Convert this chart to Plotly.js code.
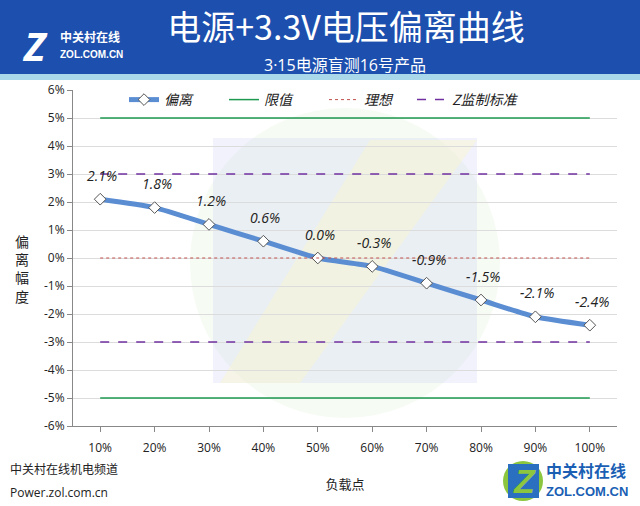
<!DOCTYPE html>
<html><head><meta charset="utf-8">
<script src="https://cdn.plot.ly/plotly-3.0.1.min.js"></script>
<style>html,body{margin:0;padding:0;background:#fff}#c{width:640px;height:506px}</style>
</head><body><div id="c"></div>
<script>
var categories = ['10%','20%','30%','40%','50%','60%','70%','80%','90%','100%'];
var deviation = [2.1, 1.8, 1.2, 0.6, 0.0, -0.3, -0.9, -1.5, -2.1, -2.4];
var limitUpper = 5, limitLower = -5;
var ideal = 0;
var zStdUpper = 3, zStdLower = -3;
var yTicks = [-6,-5,-4,-3,-2,-1,0,1,2,3,4,5,6];

var M = {l:73, r:23, t:90, b:80};
var W = 640 - M.l - M.r, H = 506 - M.t - M.b;
function px(x){ return (x - M.l) / W; }
function py(y){ return (506 - M.b - y) / H; }
var CJK = '"Noto Sans CJK SC", "Noto Sans", sans-serif';
var LAT = '"Open Sans", "Noto Sans CJK SC", sans-serif';

function flat(v){ return categories.map(function(){ return v; }); }

var traces = [
  {x:categories, y:deviation, name:'偏离', type:'scatter', mode:'lines+markers',
   line:{color:'#5b8dd3', width:5, shape:'spline', smoothing:0.6},
   marker:{symbol:'diamond', size:9, color:'#ffffff', line:{color:'#555555', width:1}}},
  {x:categories, y:flat(limitUpper), name:'限值', type:'scatter', mode:'lines',
   line:{color:'#1e9a50', width:1.5}},
  {x:categories, y:flat(limitLower), name:'限值', type:'scatter', mode:'lines', showlegend:false,
   line:{color:'#1e9a50', width:1.5}},
  {x:categories, y:flat(ideal), name:'理想', type:'scatter', mode:'lines',
   line:{color:'#c0504d', width:1, dash:'dot'}},
  {x:categories, y:flat(zStdUpper), name:'Z监制标准', type:'scatter', mode:'lines', legend:'legend2',
   line:{color:'#7030a0', width:1.5, dash:'dash'}},
  {x:categories, y:flat(zStdLower), name:'Z监制标准', type:'scatter', mode:'lines', showlegend:false, legend:'legend2',
   line:{color:'#7030a0', width:1.5, dash:'dash'}}
];

var annotations = categories.map(function(c, i){
  return {x:c, y:deviation[i], xref:'x', yref:'y', text:deviation[i].toFixed(1)+'%',
    showarrow:false, yshift:24, xshift:2, xanchor:'center', yanchor:'middle',
    font:{family:LAT, size:14, color:'#222', style:'italic'}};
});
function pa(x, y, text, font, xa){
  return {xref:'paper', yref:'paper', x:px(x), y:py(y), text:text, showarrow:false,
          xanchor:xa || 'center', yanchor:'middle', font:font};
}
annotations.push(
  pa(345, 65, '3·15电源盲测16号产品', {family:LAT, size:16, color:'#ffffff'}),
  pa(35, 45, '<b><i>Z</i></b>', {family:LAT, size:40, color:'#ffffff'}),
  pa(58, 37, '<b>中关村在线</b>', {family:CJK, size:12, color:'#ffffff'}, 'left'),
  pa(58, 55, '<b>ZOL.COM.CN</b>', {family:'"Liberation Sans", sans-serif', size:10, color:'#ffffff'}, 'left'),
  pa(22, 268, '偏<br>离<br>幅<br>度', {family:CJK, size:14, color:'#222'}),
  pa(8, 468, '中关村在线机电频道', {family:CJK, size:12, color:'#222'}, 'left'),
  pa(8, 492, 'Power.zol.com.cn', {family:LAT, size:12, color:'#222'}, 'left'),
  pa(524, 481, '<b><i>Z</i></b>', {family:'"Liberation Sans", sans-serif', size:34, color:'#8cc63f'}),
  pa(544, 470, '<b>中关村在线</b>', {family:CJK, size:16, color:'#1a5fb4'}, 'left'),
  pa(544, 491, '<b>ZOL.COM.CN</b>', {family:'"Liberation Sans", sans-serif', size:13, color:'#1a5fb4'}, 'left')
);

var shapes = [
  {type:'rect', xref:'paper', yref:'paper', x0:px(0), x1:px(640), y0:py(0), y1:py(76), fillcolor:'#1c4fae', line:{width:0}, layer:'below'},
  {type:'rect', xref:'paper', yref:'paper', x0:px(0), x1:px(640), y0:py(74), y1:py(80), fillcolor:'#a8d8ea', line:{width:0}, layer:'below'},
  {type:'circle', xref:'paper', yref:'paper', x0:px(190), x1:px(500), y0:py(108), y1:py(418), fillcolor:'rgba(215,235,205,0.22)', line:{width:0}, layer:'below'},
  {type:'rect', xref:'paper', yref:'paper', x0:px(213), x1:px(477), y0:py(138), y1:py(383), fillcolor:'rgba(205,210,240,0.28)', line:{width:0}, layer:'below'},
  {type:'path', xref:'paper', yref:'paper', path:'M '+px(370)+' '+py(140)+' L '+px(477)+' '+py(140)+' L '+px(300)+' '+py(383)+' L '+px(220)+' '+py(383)+' Z', fillcolor:'rgba(250,246,205,0.45)', line:{width:0}, layer:'below'},
  {type:'circle', xref:'paper', yref:'paper', x0:px(503), x1:px(543), y0:py(461), y1:py(501), fillcolor:'#8cc63f', line:{width:0}},
  {type:'rect', xref:'paper', yref:'paper', x0:px(508), x1:px(539), y0:py(464), y1:py(498), fillcolor:'#2a6fc0', line:{width:0}}
];

var legendFont = {family:CJK, size:14, color:'#222', style:'italic'};
var layout = {
  width:640, height:506, margin:M,
  paper_bgcolor:'#ffffff', plot_bgcolor:'rgba(0,0,0,0)',
  title:{text:'电源+3.3V电压偏离曲线', x:px(346), xref:'paper', xanchor:'center', y:1-28/506, yanchor:'middle', yref:'container',
         font:{family:CJK, size:34, color:'#ffffff'}},
  showlegend:true,
  legend:{orientation:'h', x:px(124), y:py(100), xanchor:'left', yanchor:'middle', bgcolor:'rgba(0,0,0,0)',
          font:legendFont, traceorder:'normal', itemwidth:30, entrywidth:55},
  legend2:{orientation:'h', x:px(412), y:py(100), xanchor:'left', yanchor:'middle', bgcolor:'rgba(0,0,0,0)',
          font:legendFont, itemwidth:30},
  xaxis:{type:'category', range:[-0.5, 9.5], showgrid:false, zeroline:false, showline:true, linecolor:'#888', linewidth:1,
         ticks:'outside', ticklen:5, tickcolor:'#888', tickfont:{family:LAT, size:12, color:'#222'}, ticklabelstandoff:6,
         title:{text:'负载点', font:{family:CJK, size:13, color:'#222'}, standoff:24}, fixedrange:true},
  yaxis:{range:[-6, 6], tickvals:yTicks, ticktext:yTicks.map(function(v){return v+'%';}), showgrid:true, gridcolor:'#dcdcdc',
         zeroline:false, showline:true, linecolor:'#888', linewidth:1, ticks:'outside', ticklen:5, tickcolor:'#888',
         tickfont:{family:LAT, size:12, color:'#222'}, fixedrange:true},
  annotations:annotations, shapes:shapes
};

Plotly.newPlot('c', traces, layout, {displayModeBar:false, staticPlot:true});
</script></body></html>
